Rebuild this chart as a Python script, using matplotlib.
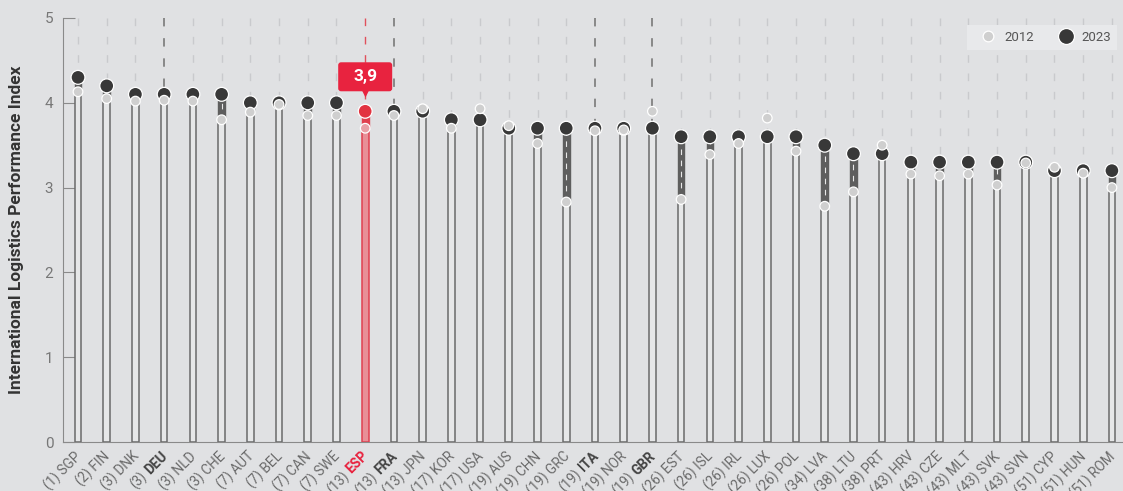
import numpy as np
import matplotlib
matplotlib.use("Agg")
import matplotlib.pyplot as plt
from matplotlib.patches import FancyBboxPatch
from matplotlib.lines import Line2D
from matplotlib.transforms import ScaledTranslation, blended_transform_factory

plt.rcParams['font.family'] = ['Roboto', 'DejaVu Sans']

countries = ["SGP", "FIN", "DNK", "DEU", "NLD", "CHE", "AUT", "BEL", "CAN", "SWE",
             "ESP", "FRA", "JPN", "KOR", "USA", "AUS", "CHN", "GRC", "ITA", "NOR",
             "GBR", "EST", "ISL", "IRL", "LUX", "POL", "LVA", "LTU", "PRT", "HRV",
             "CZE", "MLT", "SVK", "SVN", "CYP", "HUN", "ROM"]
ranks = [1, 2, 3, 3, 3, 3, 7, 7, 7, 7, 13, 13, 13, 17, 17, 19, 19, 19, 19, 19,
         19, 26, 26, 26, 26, 26, 34, 38, 38, 43, 43, 43, 43, 43, 51, 51, 51]
lpi_2023 = [4.3, 4.2, 4.1, 4.1, 4.1, 4.1, 4.0, 4.0, 4.0, 4.0, 3.9, 3.9, 3.9, 3.8, 3.8,
            3.7, 3.7, 3.7, 3.7, 3.7, 3.7, 3.6, 3.6, 3.6, 3.6, 3.6, 3.5, 3.4, 3.4,
            3.3, 3.3, 3.3, 3.3, 3.3, 3.2, 3.2, 3.2]
lpi_2012 = [4.13, 4.05, 4.02, 4.03, 4.02, 3.80, 3.89, 3.98, 3.85, 3.85, 3.70, 3.85,
            3.93, 3.70, 3.93, 3.73, 3.52, 2.83, 3.67, 3.68, 3.90, 2.86, 3.39, 3.52,
            3.82, 3.43, 2.78, 2.95, 3.50, 3.16, 3.14, 3.16, 3.03, 3.29, 3.24, 3.17, 3.00]
highlight = ["DEU", "FRA", "ITA", "GBR"]
focus = "ESP"

BG = "#e0e1e3"
RED = "#e8233f"
GREY_TXT = "#6a6a6a"

v23 = np.array(lpi_2023)
v12 = np.array(lpi_2012)
x = np.arange(len(countries))
lo = np.minimum(v12, v23)
is_focus = np.array([c == focus for c in countries])

fig = plt.figure(figsize=(11.23, 4.91), dpi=100, facecolor=BG)
ax = fig.add_axes([63 / 1123, 49 / 491, 1060 / 1123, 424 / 491])
ax.set_facecolor(BG)
ax.set_xlim(-15 / 28.72, (1123 - 78) / 28.72)
ax.set_ylim(0, 5)

# dashed vertical guides
for i, c in enumerate(countries):
    if c == focus:
        col, lw = "#e0505c", 1.0
    elif c in highlight:
        col, lw = "#707070", 1.1
    else:
        col, lw = "#c9cacd", 1.0
    ax.plot([i, i], [5, 0], color=col, lw=lw, ls=(0, (5.5, 7.7)), zorder=1)

# stems (hollow bars up to the lower value)
w = 0.23
stem_face = np.where(is_focus, "#e88f97", "#e6e7e8")
stem_edge = np.where(is_focus, "#e04050", "#6a6a6a")
ax.bar(x, lo, width=w, color=stem_face, edgecolor=stem_edge, lw=1.1, zorder=2)

# dark segment where 2023 is above 2012
up = v23 > v12
seg_col = np.where(is_focus, "#e0404e", "#5e5e5e")
ax.bar(x[up], (v23 - v12)[up], bottom=v12[up], width=w, color=seg_col[up],
       edgecolor=seg_col[up], lw=1.0, zorder=3)
ax.vlines(x[up & ~is_focus], v12[up & ~is_focus], v23[up & ~is_focus], colors="#e8e8e8",
          lw=0.8, linestyles=(0, (5, 5)), zorder=4)

# markers
c23 = np.where(is_focus, "#e23441", "#383838")
c12 = np.where(is_focus, "#e8a0a6", "#cfcfcf")
ax.scatter(x, v23, s=100, c=c23, edgecolors="white", linewidths=0.9, zorder=5, clip_on=False)
ax.scatter(x, v12, s=48, c=c12, edgecolors="white", linewidths=0.9, zorder=6, clip_on=False)

# tooltip for focus country
fi = countries.index(focus)
bw, bh = 54 / 28.72, 29 / 84.8
by = v23[fi] + 20 / 84.8
box = FancyBboxPatch((fi - bw / 2, by), bw, bh, boxstyle="round,pad=0,rounding_size=0.1",
                     mutation_aspect=28.72 / 84.8, fc=RED, ec="none", zorder=8, clip_on=False)
ax.add_patch(box)
ax.plot(fi, by - 2 / 84.8, marker="v", ms=6, color=RED, mec="none", zorder=8, clip_on=False)
ax.text(fi, by + bh / 2, f"{v23[fi]:.1f}".replace(".", ","), color="white",
        fontsize=12.5, fontweight="bold", ha="center", va="center", zorder=9)

# axes styling
for s in ["top", "right"]:
    ax.spines[s].set_visible(False)
ax.spines["left"].set_color("#8a8a8a")
ax.spines["bottom"].set_color("#8a8a8a")
ax.set_yticks([0, 1, 2, 3, 4, 5])
ax.tick_params(axis="y", direction="in", length=8.6, color="#8a8a8a", labelsize=11,
               labelcolor="#777777", pad=7)
ax.set_xticks([])
ax.set_ylabel("International Logistics Performance Index", fontsize=12.5,
              fontweight="bold", color="#333333")
ax.yaxis.set_label_coords(-39 / 1060, 0.5)

# x labels, highlighted codes in bold
trans = blended_transform_factory(ax.transData, ax.transAxes)
fs = 9.8
renderer = fig.canvas.get_renderer()
down = ScaledTranslation(-4 / 100, -7 / 100, fig.dpi_scale_trans)
for i, (c, r) in enumerate(zip(countries, ranks)):
    if c in highlight or c == focus:
        col = RED if c == focus else "#444444"
        ax.text(i, 0, c, transform=trans + down, rotation=45, rotation_mode="anchor",
                ha="right", va="top", fontsize=fs, fontweight="bold", color=col)
        tmp = fig.text(0, 0, c + " ", fontsize=fs, fontweight="bold")
        wpx = tmp.get_window_extent(renderer).width
        tmp.remove()
        shift = ScaledTranslation(-wpx * np.cos(np.pi / 4) / 100,
                                  -wpx * np.sin(np.pi / 4) / 100, fig.dpi_scale_trans)
        ax.text(i, 0, f"({r})", transform=trans + down + shift, rotation=45,
                rotation_mode="anchor", ha="right", va="top", fontsize=fs, color=GREY_TXT)
    else:
        ax.text(i, 0, f"({r}) {c}", transform=trans + down, rotation=45,
                rotation_mode="anchor", ha="right", va="top", fontsize=fs, color=GREY_TXT)

# legend
handles = [Line2D([], [], ls="", marker="o", ms=7.7, mfc="#cfcfcf", mec="white", mew=0.9),
           Line2D([], [], ls="", marker="o", ms=11.5, mfc="#383838", mec="white", mew=0.9)]
leg = ax.legend(handles, ["2012", "2023"], loc="upper right", ncol=2, frameon=True,
                fancybox=False, fontsize=9.5, labelcolor="#555555", handlelength=2.4,
                handletextpad=0.0, columnspacing=1.2, borderpad=0.45, borderaxespad=0,
                bbox_to_anchor=(1054 / 1060, 417 / 424))
leg.get_frame().set_facecolor("#e8e9eb")
leg.get_frame().set_edgecolor("none")
leg.get_frame().set_alpha(1)

fig.savefig("out.png", dpi=100, facecolor=BG)
